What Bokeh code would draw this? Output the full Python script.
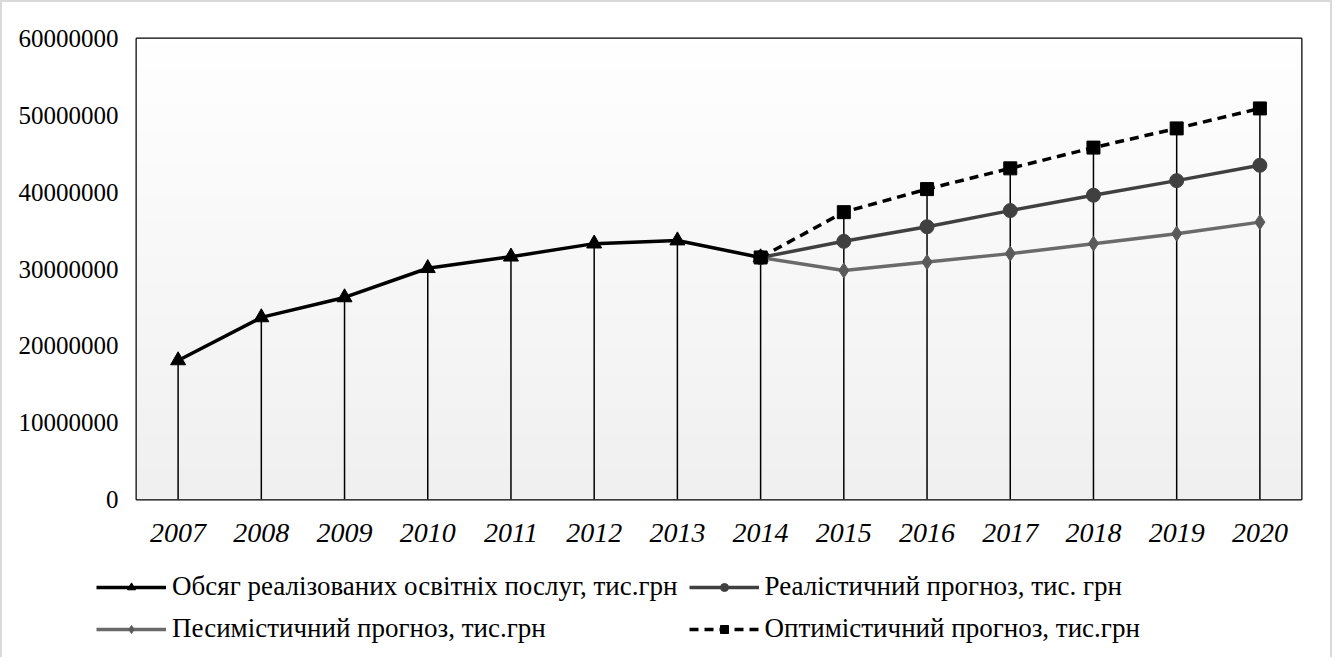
import numpy as np
from bokeh.plotting import figure
from bokeh.models import (Legend, LegendItem, FixedTicker, NumeralTickFormatter, Range1d)
from bokeh.embed import file_html
from bokeh.resources import INLINE

years = [2007, 2008, 2009, 2010, 2011, 2012, 2013, 2014, 2015, 2016, 2017, 2018, 2019, 2020]
actual_years = [2007, 2008, 2009, 2010, 2011, 2012, 2013, 2014]
actual = [18100000, 23700000, 26300000, 30100000, 31600000, 33300000, 33700000, 31500000]
fc_years = [2014, 2015, 2016, 2017, 2018, 2019, 2020]
realistic = [31500000, 33600000, 35500000, 37600000, 39600000, 41500000, 43500000]
pessimistic = [31500000, 29800000, 30900000, 32000000, 33300000, 34600000, 36100000]
optimistic = [31500000, 37400000, 40400000, 43100000, 45800000, 48300000, 50900000]

labels = ["Обсяг реалізованих освітніх послуг, тис.грн",
          "Реалістичний прогноз, тис. грн",
          "Песимістичний прогноз, тис.грн",
          "Оптимістичний прогноз, тис.грн"]
y_ticks = [0, 10000000, 20000000, 30000000, 40000000, 50000000, 60000000]

FONT = "Liberation Serif"
W = 1332

STYLES = {
    "act": dict(line=dict(line_color="black", line_width=3.5),
                mark=dict(marker="triangle", size=15, fill_color="black", line_color="black")),
    "real": dict(line=dict(line_color="#404040", line_width=3.5),
                 mark=dict(marker="circle", size=14, fill_color="#404040", line_color="#404040")),
    "pes": dict(line=dict(line_color="#6a6a6a", line_width=3.5),
                mark=dict(marker="diamond", size=15, fill_color="#5a5a5a", line_color="#5a5a5a")),
    "opt": dict(line=dict(line_color="black", line_width=3.5, line_dash="9 6"),
                mark=dict(marker="square", size=13, fill_color="black", line_color="black")),
}

p = figure(width=W, height=562, output_backend="svg", toolbar_location=None,
           x_range=Range1d(2006.5, 2020.5), y_range=Range1d(0, 60000000),
           min_border_left=134, min_border_right=33, min_border_top=36, min_border_bottom=65)
p.border_fill_color = "white"
p.outline_line_color = "black"
p.outline_line_width = 2
p.xgrid.visible = False
p.ygrid.visible = False

# background gradient (decorative)
n = 100
grad = np.zeros((n, 1), dtype=np.uint32)
view = grad.view(dtype=np.uint8).reshape((n, 1, 4))
for i in range(n):
    c = int(240 + 15 * i / (n - 1))
    view[i, 0, 0] = c
    view[i, 0, 1] = c
    view[i, 0, 2] = c
    view[i, 0, 3] = 255
p.image_rgba(image=[grad], x=2006.5, y=0, dw=14, dh=60000000)

# drop lines
top = {}
for yr, v in zip(actual_years, actual):
    top[yr] = v
for i, yr in enumerate(fc_years):
    top[yr] = max(top.get(yr, 0), realistic[i], pessimistic[i], optimistic[i])
p.segment(x0=years, y0=[0] * len(years), x1=years, y1=[top[y] for y in years],
          line_color="black", line_width=1.5)

for key, xs, ys in [("pes", fc_years, pessimistic), ("real", fc_years, realistic),
                    ("act", actual_years, actual), ("opt", fc_years, optimistic)]:
    p.line(xs, ys, **STYLES[key]["line"])
    p.scatter(xs, ys, **STYLES[key]["mark"])

p.xaxis.ticker = FixedTicker(ticks=years)
p.yaxis.ticker = FixedTicker(ticks=y_ticks)
p.yaxis.formatter = NumeralTickFormatter(format="0")
for ax in (p.xaxis[0], p.yaxis[0]):
    ax.axis_line_color = None
    ax.major_tick_line_color = None
    ax.minor_tick_line_color = None
    ax.major_label_text_font = FONT
    ax.major_label_text_color = "black"
p.yaxis.major_label_text_font_size = "25px"
p.yaxis.major_label_standoff = 12
p.xaxis.major_label_text_font_size = "28px"
p.xaxis.major_label_text_font_style = "italic"
p.xaxis.major_label_standoff = 18
p.styles = {"border-top": "2px solid #d9d9d9", "border-left": "2px solid #d9d9d9",
            "border-right": "2px solid #d9d9d9"}

# legend strip
q = figure(width=W, height=95, output_backend="svg", toolbar_location=None,
           x_range=Range1d(0, 1), y_range=Range1d(0, 1), x_axis_type=None, y_axis_type=None,
           min_border=0)
q.outline_line_color = None
q.xgrid.visible = False
q.ygrid.visible = False
q.styles = {"border-left": "2px solid #d9d9d9", "border-right": "2px solid #d9d9d9"}
rend = {}
for key in STYLES:
    rl = q.line([-5, -4], [-5, -4], **STYLES[key]["line"])
    rm = q.scatter([-5], [-5], **STYLES[key]["mark"])
    rend[key] = [rl, rm]

legend = Legend(items=[LegendItem(label=labels[0], renderers=rend["act"]),
                       LegendItem(label=labels[1], renderers=rend["real"]),
                       LegendItem(label=labels[2], renderers=rend["pes"]),
                       LegendItem(label=labels[3], renderers=rend["opt"])],
                location=(94, 13), orientation="horizontal", ncols=2,
                spacing=11, padding=0, margin=0, glyph_width=70, glyph_height=20,
                label_height=30, label_standoff=6, border_line_color=None,
                background_fill_alpha=0,
                label_text_font=FONT, label_text_font_size="27px", label_text_color="black")
q.add_layout(legend, "center")

open("out.html", "w").write(file_html([p, q], INLINE))
